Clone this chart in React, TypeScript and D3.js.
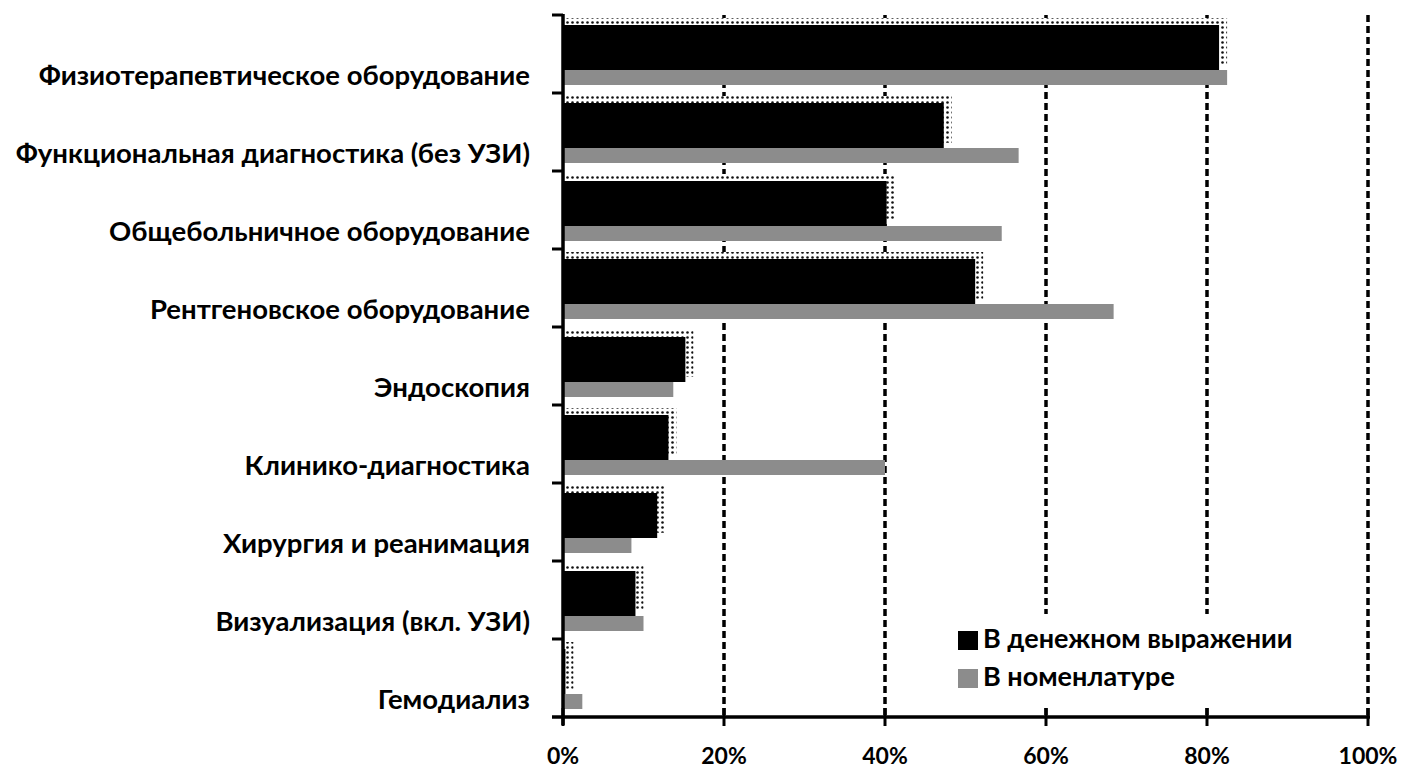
import React from "react";
import * as d3 from "d3";

const categories = [
  "Физиотерапевтическое оборудование",
  "Функциональная диагностика (без УЗИ)",
  "Общебольничное оборудование",
  "Рентгеновское оборудование",
  "Эндоскопия",
  "Клинико-диагностика",
  "Хирургия и реанимация",
  "Визуализация (вкл. УЗИ)",
  "Гемодиализ",
];
const moneyValues = [81.5, 47.3, 40.2, 51.2, 15.2, 13.1, 11.7, 9.0, 0.3];
const nomenclatureValues = [82.5, 56.6, 54.5, 68.4, 13.7, 40.0, 8.5, 10.0, 2.4];
const xTicks = [0, 20, 40, 60, 80, 100];
const seriesNames = ["В денежном выражении", "В номенлатуре"];

const W = 1410;
const H = 769;
const FONT = "Lato, 'Open Sans', sans-serif";

export default function App() {
  const x = d3.scaleLinear().domain([0, 100]).range([563, 1368]);
  const y = d3.scaleBand<string>().domain(categories).range([15, 717]).padding(0);
  const bw = y.bandwidth();
  const x0 = x(0);
  const axisY = 717;

  return (
    <svg
      width={W}
      height={H}
      style={{ position: "absolute", left: 0, top: 0, background: "#fff" }}
      xmlns="http://www.w3.org/2000/svg"
    >
      <defs>
        <pattern id="dots" width="5" height="5" patternUnits="userSpaceOnUse">
          <rect width="5" height="5" fill="#fff" />
          <circle cx="2.5" cy="2.5" r="1.3" fill="#111" />
        </pattern>
      </defs>
      <rect width={W} height={H} fill="#fff" />

      {/* gridlines */}
      {xTicks.slice(1).map((t) => (
        <line
          key={"g" + t}
          x1={x(t)}
          x2={x(t)}
          y1={15}
          y2={axisY}
          stroke="#000"
          strokeWidth={3.5}
          strokeDasharray="7 4"
        />
      ))}

      {/* bars */}
      {categories.map((c, i) => {
        const b = y(c)!;
        const mx = x(moneyValues[i]);
        const nx = x(nomenclatureValues[i]);
        return (
          <g key={c}>
            <rect x={x0 + 3} y={b + 3} width={Math.max(0, mx - x0 + 5)} height={bw * 0.6} fill="url(#dots)" />
            <rect x={x0} y={b + 10} width={Math.max(0, mx - x0)} height={45} fill="#000" />
            <rect x={x0} y={b + 55} width={Math.max(0, nx - x0)} height={15} fill="#8c8c8c" />
          </g>
        );
      })}

      {/* y axis */}
      <line x1={x0} x2={x0} y1={14} y2={axisY + 8} stroke="#000" strokeWidth={3.5} />
      {categories.map((c) => (
        <line key={"t" + c} x1={x0 - 11} x2={x0} y1={y(c)!} y2={y(c)!} stroke="#000" strokeWidth={3} />
      ))}
      {/* x axis */}
      <line x1={x0 - 11} x2={x(100) + 2} y1={axisY} y2={axisY} stroke="#000" strokeWidth={3.5} />
      {xTicks.map((t) => (
        <line key={"xt" + t} x1={x(t)} x2={x(t)} y1={axisY - 9} y2={axisY + 9} stroke="#000" strokeWidth={3} />
      ))}
      {xTicks.map((t) => (
        <text
          key={"xl" + t}
          x={x(t)}
          y={764}
          textAnchor="middle"
          fontFamily={FONT}
          fontWeight="bold"
          fontSize={23}
          fill="#000"
        >
          {t + "%"}
        </text>
      ))}

      {/* category labels */}
      {categories.map((c) => (
        <text
          key={"l" + c}
          x={530}
          y={y(c)! + 70}
          textAnchor="end"
          fontFamily={FONT}
          fontWeight="bold"
          fontSize={27.5}
          fill="#000"
        >
          {c}
        </text>
      ))}

      {/* legend */}
      <rect x={900} y={614} width={458} height={90} fill="#fff" />
      <rect x={958} y={631} width={20} height={19} fill="#000" />
      <text x={983} y={648} fontFamily={FONT} fontWeight="bold" fontSize={27} fill="#000">
        {seriesNames[0]}
      </text>
      <rect x={958} y={669} width={20} height={19} fill="#8c8c8c" />
      <text x={983} y={686} fontFamily={FONT} fontWeight="bold" fontSize={27} fill="#000">
        {seriesNames[1]}
      </text>
    </svg>
  );
}
